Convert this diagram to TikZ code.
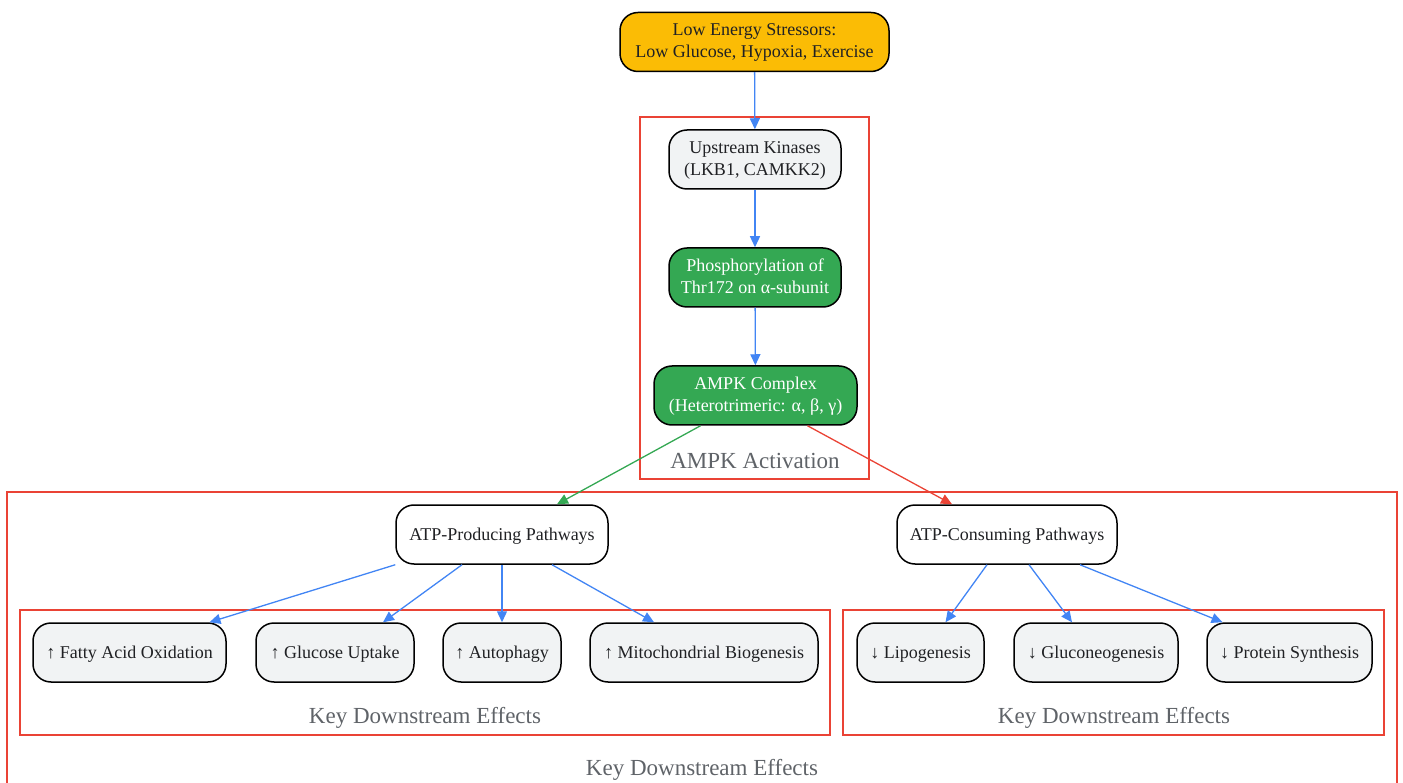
\documentclass[tikz,border=0pt]{standalone}
\usepackage{fontspec}
\setmainfont{Liberation Serif}
\usetikzlibrary{arrows.meta}
\definecolor{gyellow}{HTML}{FBBC05}
\definecolor{ggreen}{HTML}{34A853}
\definecolor{gred}{HTML}{EA4335}
\definecolor{gblue}{HTML}{4285F4}
\definecolor{glight}{HTML}{F1F3F4}
\definecolor{gtext}{HTML}{202124}
\definecolor{ggray}{HTML}{5F6368}

\begin{document}
\begin{tikzpicture}[x=1pt, y=-1pt,
		box/.style={draw=black, line width=1.5pt, rounded corners=18pt, minimum height=59pt, align=center, inner sep=0pt, text=gtext, font=\fontsize{18}{22}\selectfont},
		oneline/.style={box, text height=16pt, text depth=4pt},
		twoline/.style={box, text height=36pt, text depth=4pt},
		grp/.style={draw=gred, line width=1.2pt},
		grplabel/.style={text=ggray, font=\fontsize{23}{26}\selectfont},
		link/.style={line width=1.3pt, -{Triangle[length=11pt,width=10pt]}}]
		%%%%% START %%%%%
		
		\useasboundingbox (0, 0) rectangle (1403, 783);
		
		% clusters
		\draw[grp] (640, 117) rectangle (869, 479);
		\node[grplabel] (actlabel) at (755, 461) {AMPK Activation};
		
		\draw[grp] (7, 795) -- (7, 492) -- (1397, 492) -- (1397, 795);
		\node[grplabel] (alllabel) at (702, 770) {Key Downstream Effects};
		
		\draw[grp] (20, 610) rectangle (830, 735);
		\node[grplabel] (uplabel) at (425, 718) {Key Downstream Effects};
		\draw[grp] (843, 610) rectangle (1384, 735);
		\node[grplabel] (downlabel) at (1114, 718) {Key Downstream Effects};
		
		% activation chain
		\node[twoline, fill=gyellow, minimum width=269pt] (stress) at (754.5, 42) {Low Energy Stressors:\\Low Glucose, Hypoxia, Exercise};
		\node[twoline, fill=glight, minimum width=172pt] (kinases) at (755, 159.5) {Upstream Kinases\\(LKB1, CAMKK2)};
		\node[twoline, fill=ggreen, text=white, minimum width=172pt] (phos) at (755, 277.5) {Phosphorylation of\\Thr172 on α-subunit};
		\node[twoline, fill=ggreen, text=white, minimum width=203pt] (ampk) at (755.5, 395.5) {AMPK Complex\\(Heterotrimeric: α, β, γ)};
		
		% pathways
		\node[oneline, fill=white, minimum width=212pt] (prod) at (502, 534.5) {ATP-Producing Pathways};
		\node[oneline, fill=white, minimum width=220pt] (cons) at (1007, 534.5) {ATP-Consuming Pathways};
		
		% effects
		\node[oneline, fill=glight, minimum width=193pt] (fatty) at (129.5, 652.5) {↑ Fatty Acid Oxidation};
		\node[oneline, fill=glight, minimum width=158pt] (uptake) at (335, 652.5) {↑ Glucose Uptake};
		\node[oneline, fill=glight, minimum width=118pt] (autophagy) at (502, 652.5) {↑ Autophagy};
		\node[oneline, fill=glight, minimum width=228pt] (mito) at (704, 652.5) {↑ Mitochondrial Biogenesis};
		\node[oneline, fill=glight, minimum width=127pt] (lipo) at (920.5, 652.5) {↓ Lipogenesis};
		\node[oneline, fill=glight, minimum width=164pt] (gluco) at (1096, 652.5) {↓ Gluconeogenesis};
		\node[oneline, fill=glight, minimum width=165pt] (protein) at (1289.5, 652.5) {↓ Protein Synthesis};
		
		% connectors
		\draw[link, gblue] (stress) -- (kinases);
		\draw[link, gblue] (kinases) -- (phos);
		\draw[link, gblue] (phos) -- (ampk);
		
		\draw[link, ggreen] ([xshift=-55pt]ampk.south) -- ([xshift=55pt]prod.north);
		\draw[link, gred] ([xshift=52pt]ampk.south) -- ([xshift=-55pt]cons.north);
		
		\draw[link, gblue] (prod.south west) -- ([xshift=80pt]fatty.north);
		\draw[link, gblue] ([xshift=-40pt]prod.south) -- ([xshift=48pt]uptake.north);
		\draw[link, gblue] (prod) -- (autophagy);
		\draw[link, gblue] ([xshift=50pt]prod.south) -- ([xshift=-50pt]mito.north);
		
		\draw[link, gblue] ([xshift=-20pt]cons.south) -- ([xshift=25pt]lipo.north);
		\draw[link, gblue] ([xshift=22pt]cons.south) -- ([xshift=-24pt]gluco.north);
		\draw[link, gblue] ([xshift=73pt]cons.south) -- ([xshift=-67pt]protein.north);
		
		%%%%% END %%%%%
	\end{tikzpicture}
\end{document}
